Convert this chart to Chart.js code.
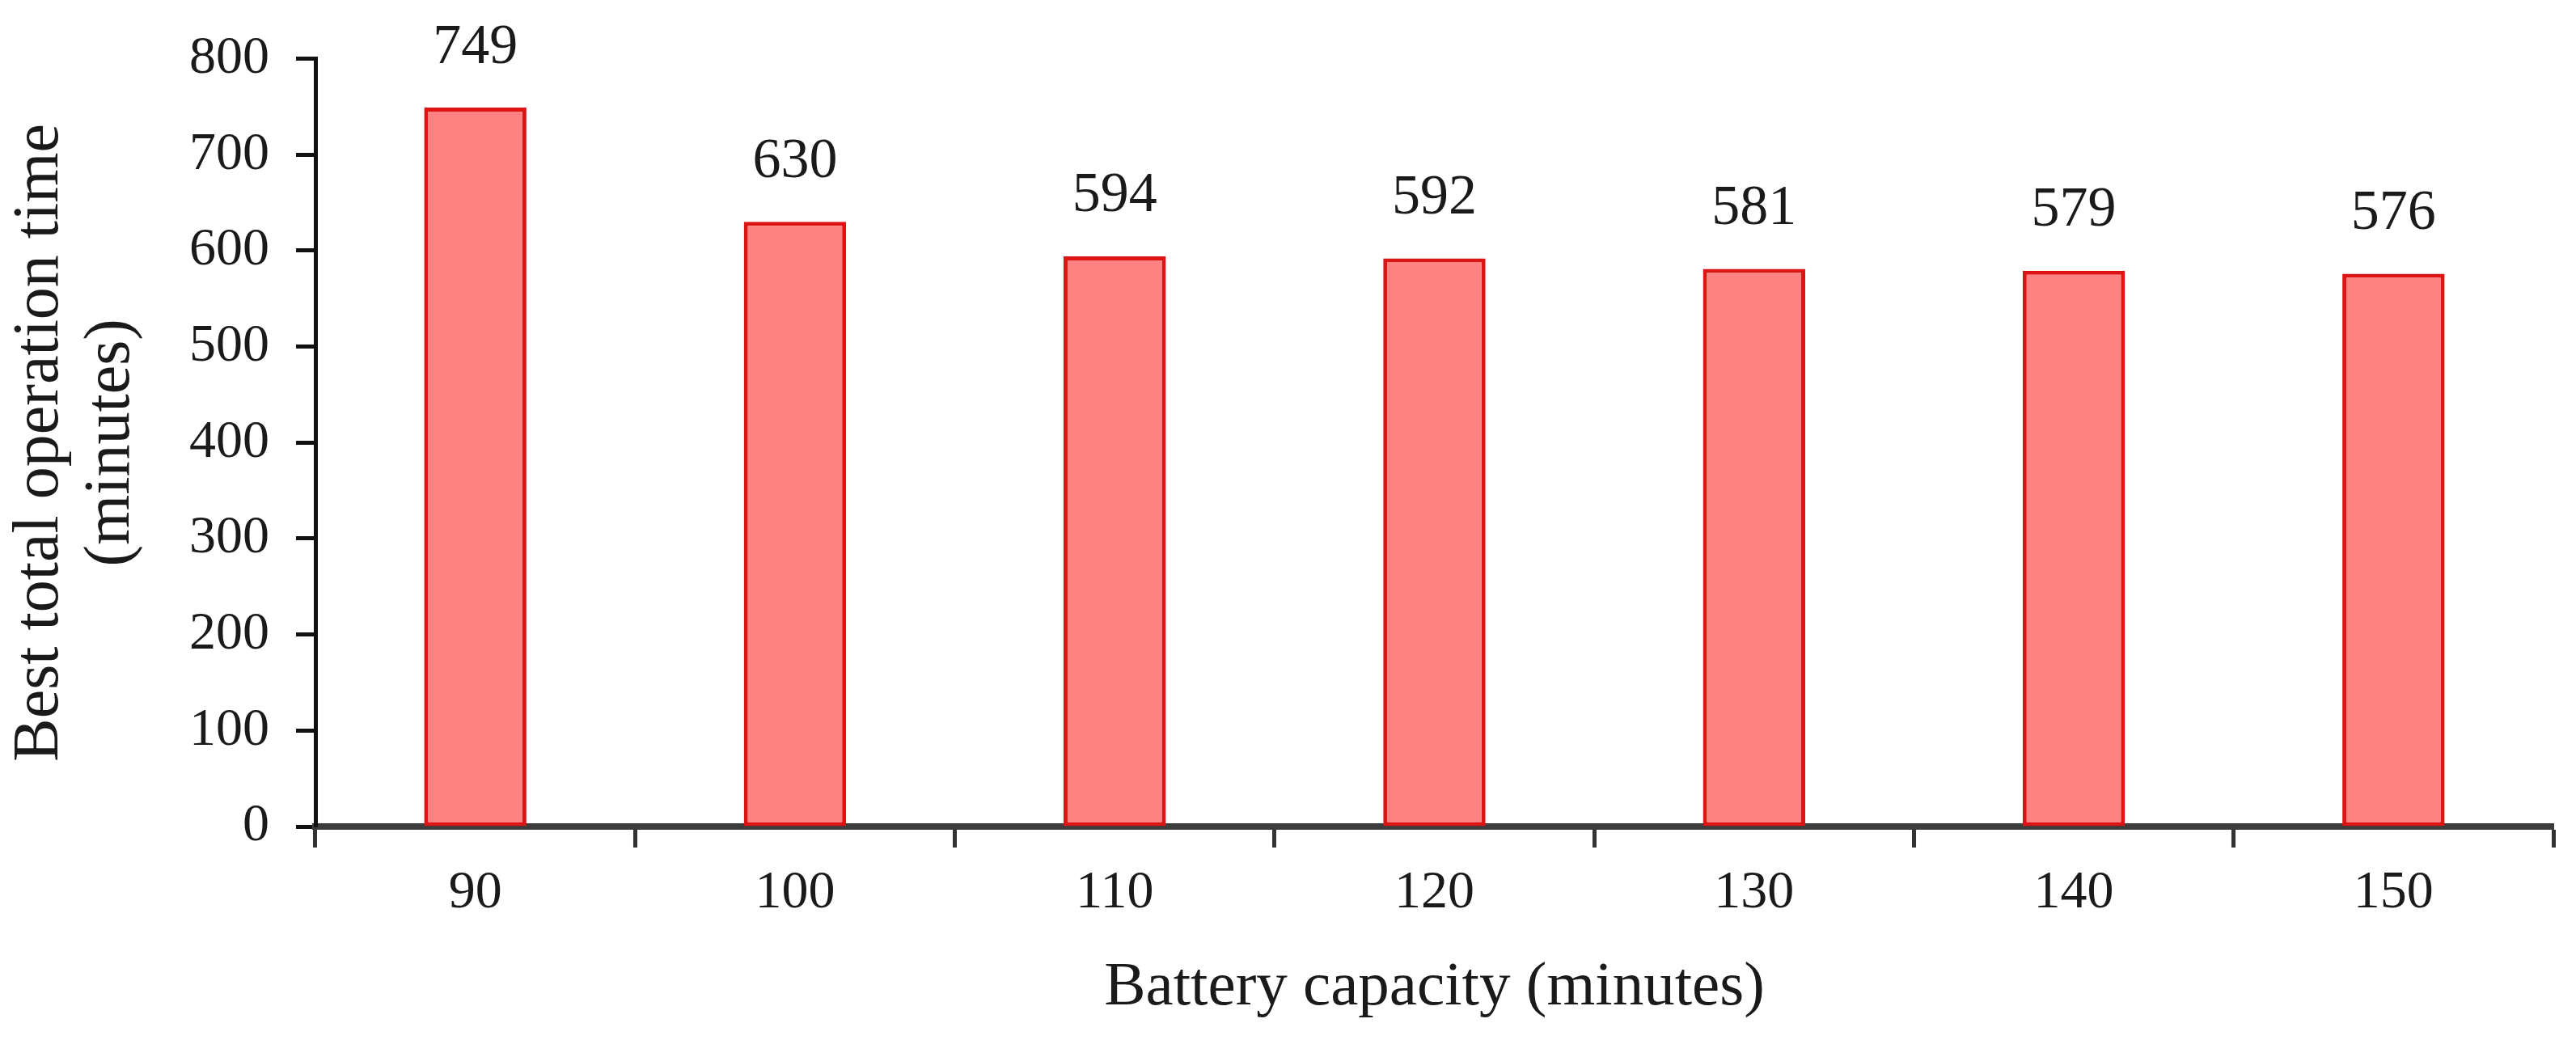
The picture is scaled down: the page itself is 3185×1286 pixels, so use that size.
<!DOCTYPE html>
<html>
<head>
<meta charset="utf-8">
<script src="https://cdn.jsdelivr.net/npm/chart.js@4"></script>
<style>
  html, body { margin: 0; padding: 0; background: #ffffff; }
  #wrap { width: 3185px; height: 1286px; position: relative; }
</style>
</head>
<body>
<div id="wrap"><canvas id="c"></canvas></div>
<script>
// ---- data ----
const categories = ["90", "100", "110", "120", "130", "140", "150"];
const operationTime = [749, 630, 594, 592, 581, 579, 576];
const yTickMin = 0;
const yTickMax = 800;
const yTickStep = 100;
const xTitle = "Battery capacity (minutes)";
const yTitle = ["Best total operation time", "(minutes)"];

const FONT = "'Liberation Serif', 'Times New Roman', serif";
const TEXT = "#1a1a1a";

const valueLabels = {
  id: 'valueLabels',
  afterDatasetsDraw(chart) {
    const ctx = chart.ctx;
    const meta = chart.getDatasetMeta(0);
    ctx.save();
    ctx.font = "70px " + FONT;
    ctx.fillStyle = TEXT;
    ctx.textAlign = 'center';
    ctx.textBaseline = 'middle';
    meta.data.forEach((bar, i) => {
      ctx.fillText(String(operationTime[i]), bar.x, bar.y - 74);
    });
    ctx.restore();
  }
};

new Chart(document.getElementById('c'), {
  type: 'bar',
  data: {
    labels: categories,
    datasets: [{
      data: operationTime,
      backgroundColor: 'rgb(255,130,130)',
      borderColor: '#dc1414',
      borderWidth: 5,
      borderSkipped: false,
      barPercentage: 0.32,
      categoryPercentage: 1.0
    }]
  },
  options: {
    responsive: true,
    maintainAspectRatio: false,
    devicePixelRatio: 1,
    animation: false,
    layout: { padding: { top: 72, right: 28, left: 0, bottom: 0 } },
    plugins: {
      legend: { display: false },
      tooltip: { enabled: false },
      title: { display: false }
    },
    scales: {
      x: {
        type: 'category',
        offset: true,
        grid: {
          offset: true,
          drawOnChartArea: false,
          drawTicks: true,
          tickLength: 26,
          tickWidth: 5,
          tickColor: '#333333'
        },
        border: { display: true, color: '#3c3c3c', width: 8 },
        ticks: {
          color: TEXT,
          padding: 17,
          maxRotation: 0,
          font: { family: FONT, size: 66 }
        },
        title: {
          display: true,
          text: xTitle,
          color: TEXT,
          font: { family: FONT, size: 77, lineHeight: 1.2 },
          padding: { top: 0, bottom: 18 }
        },
        afterFit(scale) { scale.height = 264; }
      },
      y: {
        min: yTickMin,
        max: yTickMax,
        grid: {
          drawOnChartArea: false,
          drawTicks: true,
          tickLength: 24,
          tickWidth: 5,
          tickColor: '#111111'
        },
        border: { display: true, color: '#111111', width: 5 },
        ticks: {
          stepSize: yTickStep,
          color: TEXT,
          padding: 33,
          font: { family: FONT, size: 66 }
        },
        title: {
          display: true,
          text: yTitle,
          color: TEXT,
          font: { family: FONT, size: 80, lineHeight: 1.1 },
          padding: { top: 6, bottom: 0 }
        },
        afterFit(scale) { scale.width = 390; }
      }
    }
  },
  plugins: [valueLabels]
});
</script>
</body>
</html>
